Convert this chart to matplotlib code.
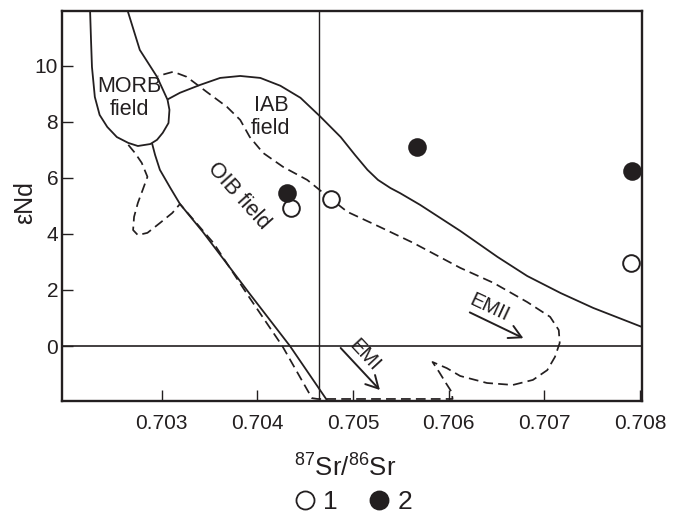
import matplotlib
matplotlib.use("Agg")
import matplotlib.pyplot as plt
from matplotlib.lines import Line2D

plt.rcParams['font.family'] = ['Liberation Sans', 'DejaVu Sans']
plt.rcParams['mathtext.default'] = 'regular'

INK = '#231f20'

# ---- data (87Sr/86Sr, eNd) ----
morb_x = [0.70225, 0.70226, 0.70227, 0.70230, 0.70235, 0.70243, 0.70253, 0.70265, 0.70275,
          0.70288, 0.70295, 0.70301, 0.70307, 0.70308, 0.70306, 0.70295, 0.70277, 0.70264]
morb_y = [12.0, 10.93, 9.96, 8.89, 8.25, 7.82, 7.46, 7.25, 7.14,
          7.21, 7.36, 7.61, 7.96, 8.43, 8.79, 9.61, 10.57, 12.0]

iab_upper_x = [0.70307, 0.70319, 0.70340, 0.70361, 0.70382, 0.70403, 0.70424, 0.70445, 0.70466,
               0.70487, 0.70502, 0.70515, 0.70526, 0.70539, 0.70549, 0.70570, 0.70612, 0.70651,
               0.70682, 0.70717, 0.70751, 0.70802]
iab_upper_y = [8.82, 9.04, 9.32, 9.57, 9.64, 9.57, 9.29, 8.86, 8.18,
               7.46, 6.82, 6.29, 5.93, 5.64, 5.46, 5.04, 4.11, 3.18,
               2.50, 1.89, 1.36, 0.68]

iab_lower_x = [0.70290, 0.70293, 0.70298, 0.70309, 0.70319, 0.70343, 0.70392, 0.70434, 0.70474]
iab_lower_y = [7.21, 6.82, 6.29, 5.64, 5.07, 4.07, 1.86, 0.0, -2.0]

oib_x = [0.70265, 0.70272, 0.70279, 0.70285, 0.70280, 0.70275, 0.70271, 0.70270, 0.70275,
         0.70285, 0.70298, 0.70311, 0.70319, 0.70354, 0.70392, 0.70426, 0.70457, 0.70463,
         0.70604, 0.70603, 0.70597, 0.70590, 0.70583, 0.70598, 0.70612, 0.70640, 0.70667,
         0.70688, 0.70703, 0.70711, 0.70716, 0.70715, 0.70706, 0.70682, 0.70647, 0.70612,
         0.70563, 0.70528, 0.70494, 0.70469, 0.70452, 0.70427, 0.70406, 0.70392, 0.70382,
         0.70368, 0.70347, 0.70326, 0.70312, 0.70296]
oib_y = [7.18, 6.89, 6.54, 6.04, 5.57, 5.11, 4.61, 4.14, 3.96,
         4.04, 4.39, 4.75, 5.07, 3.68, 1.71, 0.0, -1.86, -1.89,
         -1.89, -1.64, -1.32, -0.93, -0.57, -0.79, -1.07, -1.32, -1.39,
         -1.21, -0.86, -0.39, 0.11, 0.57, 1.04, 1.57, 2.25, 2.79,
         3.68, 4.25, 4.79, 5.46, 5.93, 6.39, 6.89, 7.46, 8.07,
         8.54, 9.07, 9.61, 9.79, 9.64]

s1_x = [0.70435, 0.70477, 0.70791]
s1_y = [4.92, 5.25, 2.97]
s2_x = [0.70431, 0.70567, 0.70792]
s2_y = [5.45, 7.12, 6.25]

chur_sr = 0.70464
chur_nd = 0.0

xticks = [0.703, 0.704, 0.705, 0.706, 0.707, 0.708]
xticklabels = ['0.703', '0.704', '0.705', '0.706', '0.707', '0.708']
yticks = [0, 2, 4, 6, 8, 10]
yticklabels = ['0', '2', '4', '6', '8', '10']

emi_tail = (0.70487, -0.07)
emi_head = (0.70528, -1.57)
emii_tail = (0.70622, 1.20)
emii_head = (0.70678, 0.28)

# ---- figure ----
fig = plt.figure(figsize=(6.81, 5.15), dpi=100)
ax = fig.add_axes([0.0915, 0.2204, 0.8512, 0.7583])
ax.set_xlim(0.70196, 0.70802)
ax.set_ylim(-1.98, 11.96)

lw = 1.3
ax.plot(morb_x, morb_y, color=INK, lw=lw)
ax.plot(iab_upper_x, iab_upper_y, color=INK, lw=lw)
ax.plot(iab_lower_x, iab_lower_y, color=INK, lw=lw)
ax.plot(oib_x, oib_y, color=INK, lw=1.25, linestyle=(0, (5.6, 3.0)))

ax.axhline(chur_nd, color=INK, lw=1.2)
ax.axvline(chur_sr, color=INK, lw=1.0)

ax.plot(s1_x, s1_y, 'o', ms=12, mfc='white', mec=INK, mew=1.4, zorder=5, clip_on=False)
ax.plot(s2_x, s2_y, 'o', ms=12, mfc=INK, mec=INK, mew=1.4, zorder=5, clip_on=False)

arrow = dict(arrowstyle='->,head_length=0.55,head_width=0.3', lw=1.4, color=INK,
             shrinkA=0, shrinkB=0, mutation_scale=16)
ax.annotate('', xy=emi_head, xytext=emi_tail, arrowprops=arrow)
ax.annotate('', xy=emii_head, xytext=emii_tail, arrowprops=arrow)

lab = dict(fontsize=15.5, color=INK, ha='center', va='center')
ax.text(0.70266, 8.85, 'MORB\nfield', linespacing=1.12, **lab)
ax.text(0.70414, 8.17, 'IAB\nfield', linespacing=1.1, **lab)
ax.text(0.70380, 5.36, 'OIB field', rotation=-48, rotation_mode='anchor', **lab)
ax.text(0.70512, -0.32, 'EMI', rotation=-47, rotation_mode='anchor', fontsize=14.5, color=INK,
        ha='center', va='center')
ax.text(0.70643, 1.37, 'EMII', rotation=-25, rotation_mode='anchor', fontsize=14.5, color=INK,
        ha='center', va='center')

ax.set_xticks(xticks)
ax.set_xticklabels(xticklabels)
ax.set_yticks(yticks)
ax.set_yticklabels(yticklabels)
ax.tick_params(direction='in', length=8, width=1.0, colors=INK, labelsize=15)
ax.tick_params(axis='x', pad=9)
ax.tick_params(axis='y', pad=3)
for s in ax.spines.values():
    s.set_linewidth(1.7)
    s.set_color(INK)

fig.text(25 / 681, 1 - 203 / 515, 'εNd', rotation=90, ha='center', va='center',
         fontsize=18, color=INK)
fig.text(345 / 681, 1 - 468 / 515, r'$^{87}$Sr/$^{86}$Sr', ha='center', va='center',
         fontsize=18.5, color=INK)

handles = [Line2D([], [], marker='o', ls='none', ms=13, mfc='white', mec=INK, mew=1.3),
           Line2D([], [], marker='o', ls='none', ms=13, mfc=INK, mec=INK, mew=1.3)]
fig.legend(handles, ['1', '2'], loc='center', bbox_to_anchor=(354 / 681, 1 - 502 / 515),
           ncol=2, frameon=False, fontsize=19, handlelength=0.7, handletextpad=0.35,
           columnspacing=1.2, borderpad=0, labelcolor=INK)

fig.savefig('out.png', dpi=100)
